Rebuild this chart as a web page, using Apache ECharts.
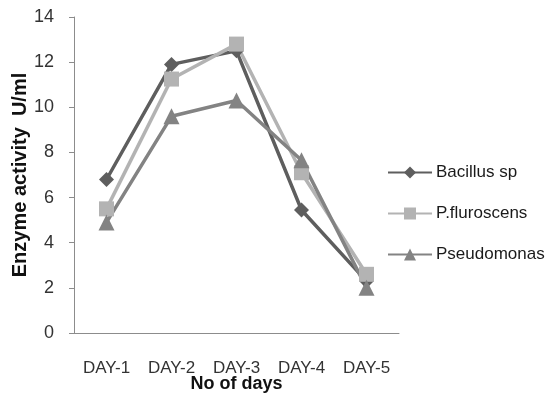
<!DOCTYPE html>
<html>
<head>
<meta charset="utf-8">
<script src="https://cdn.jsdelivr.net/npm/echarts@6/dist/echarts.min.js"></script>
<style>
  html, body { margin: 0; padding: 0; background: #fff; }
  #chart { width: 557px; height: 394px; }
</style>
</head>
<body>
<div id="chart"></div>
<script>
// Enzyme activity (U/ml) measured over five days for three strains
const days = ['DAY-1', 'DAY-2', 'DAY-3', 'DAY-4', 'DAY-5'];
const bacillus = [6.8, 11.9, 12.5, 5.45, 2.3];
const fluroscens = [5.5, 11.25, 12.8, 7.1, 2.6];
const pseudomonas = [4.9, 9.6, 10.3, 7.65, 2.0];
const seriesNames = ['Bacillus sp', 'P.fluroscens', 'Pseudomonas'];

const font = 'Liberation Sans, Arial, sans-serif';
const chart = echarts.init(document.getElementById('chart'));

function line(name, data, color, symbol, size) {
  return {
    name: name,
    type: 'line',
    data: data,
    symbol: symbol,
    symbolSize: size,
    lineStyle: { color: color, width: 3.5 },
    itemStyle: { color: color },
    z: 2
  };
}

chart.setOption({
  animation: false,
  grid: { left: 74, top: 17, width: 325, height: 316, outerBoundsMode: 'none', containLabel: false },
  legend: {
    orient: 'vertical',
    left: 382,
    top: 159,
    itemGap: 24,
    itemWidth: 44,
    itemHeight: 15,
    textStyle: { fontFamily: font, fontSize: 17, color: '#1a1a1a', padding: [0, 0, 0, -1] },
    data: seriesNames
  },
  xAxis: {
    type: 'category',
    data: days,
    name: 'No of days',
    nameLocation: 'middle',
    nameGap: 42,
    nameMoveOverlap: false,
    nameTextStyle: { fontFamily: font, fontSize: 18, fontWeight: 'bold', color: '#111' },
    axisLine: { lineStyle: { color: '#8c8c8c', width: 1 } },
    axisTick: { length: 7, lineStyle: { color: '#8c8c8c' } },
    axisLabel: { fontFamily: font, fontSize: 17, color: '#333', margin: 27 }
  },
  yAxis: {
    type: 'value',
    min: 0,
    max: 14,
    interval: 2,
    name: 'Enzyme activity  U/ml',
    nameLocation: 'middle',
    nameGap: 44,
    nameMoveOverlap: false,
    nameTextStyle: { fontFamily: font, fontSize: 20, fontWeight: 'bold', color: '#111' },
    splitLine: { show: false },
    axisLine: { show: true, lineStyle: { color: '#8c8c8c', width: 1 } },
    axisTick: { show: true, length: 5, lineStyle: { color: '#8c8c8c' } },
    axisLabel: { fontFamily: font, fontSize: 18, color: '#333', margin: 20 }
  },
  series: [
    line(seriesNames[0], bacillus, '#5e5e5e', 'diamond', 15),
    line(seriesNames[1], fluroscens, '#b3b3b3', 'rect', 15),
    line(seriesNames[2], pseudomonas, '#838383', 'triangle', 16)
  ]
});
</script>
</body>
</html>
